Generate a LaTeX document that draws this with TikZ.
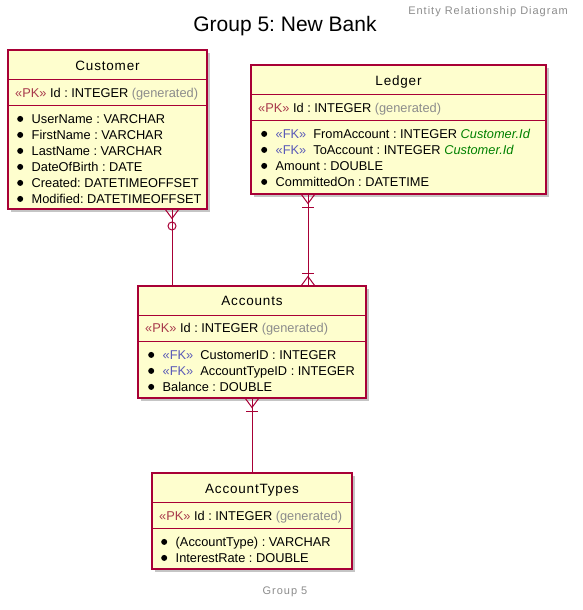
\documentclass[tikz,border=0pt]{standalone}
\usepackage{fontspec}
\setmainfont{Liberation Sans}
\newfontfamily\titlefont[LetterSpace=6]{Liberation Sans}
\newfontfamily\notefont[LetterSpace=9]{Liberation Sans}
\usetikzlibrary{calc, shadows}

\definecolor{umlred}{HTML}{A80036}
\definecolor{umlfill}{HTML}{FEFECE}
\definecolor{pkred}{HTML}{A83A4C}
\definecolor{fkblue}{HTML}{5A5AB8}
\definecolor{refgreen}{HTML}{008000}
\definecolor{gentext}{HTML}{8C8C8C}

\newcommand{\pkmark}{\textcolor{pkred}{«PK»}}
\newcommand{\fkmark}{\textcolor{fkblue}{«FK»}}
\newcommand{\generated}{\textcolor{gentext}{(generated)}}
\newcommand{\fkref}[1]{\textcolor{refgreen}{\itshape #1}}
\newcommand{\attrdot}{\strut\tikz[baseline=-4.4pt]\fill (0,0) circle (3pt);\hspace{8.5pt}}
\frenchspacing

\begin{document}
\begin{tikzpicture}
[
    x = 1pt, y = -1pt,
    entity/.style = {draw = umlred, fill = umlfill, line width = 1.3pt, anchor = north west,
                     inner sep = 0pt, outer sep = 0pt,
                     drop shadow = {shadow xshift = 3pt, shadow yshift = -3pt, fill = black!45, opacity = 0.5}},
    etitle/.style = {font = \titlefont\fontsize{13.5}{16}\selectfont, anchor = base, inner sep = 0pt},
    pkline/.style = {font = \fontsize{12.8}{16}\selectfont, anchor = base west, inner sep = 0pt},
    attrs/.style  = {font = \fontsize{12.8}{16}\selectfont, anchor = north west, align = left, inner sep = 0pt},
    note/.style   = {inner sep = 0pt, text = gentext, font = \notefont\fontsize{11}{13}\selectfont},
    sep/.style    = {draw = umlred, line width = 1pt},
    rel/.style    = {draw = umlred, line width = 1pt}
  ]

  \tikzset{crowfoot/.pic = {\draw[rel] (-7, 0) -- (0, 9.5) -- (7, 0);},
           onebar/.pic   = {\draw[rel] (-6, 0) -- (6, 0);},
           zeroring/.pic = {\draw[rel] (0, 0) circle (4pt);}}

  \useasboundingbox (0, 0) rectangle (582, 610);

  % headings
  \node[note, anchor = base east] (header) at (568, 15) {Entity Relationship Diagram};
  \node[anchor = base, inner sep = 0pt, font = \fontsize{21}{25}\selectfont] (mainTitle) at (285, 32) {Group 5: New Bank};
  \node[note, anchor = base] (footer) at (285, 594) {Group 5};

  % entities
  \node[entity, minimum width = 199pt, minimum height = 159pt] (cust) at (8, 50) {};
  \node[entity, minimum width = 295pt, minimum height = 129pt] (ledger) at (251, 65) {};
  \node[entity, minimum width = 228pt, minimum height = 112pt] (acct) at (138, 286) {};
  \node[entity, minimum width = 200pt, minimum height = 96pt] (acctTypes) at (152, 473) {};

  \foreach \ent in {cust, ledger, acct, acctTypes}
  {
    \draw[sep] ([yshift = -29.5pt]\ent.north west) -- ([yshift = -29.5pt]\ent.north east);
    \draw[sep] ([yshift = -55.5pt]\ent.north west) -- ([yshift = -55.5pt]\ent.north east);
  }

  \node[etitle] (custTitle) at ([yshift = -20.3pt]cust.north) {Customer};
  \node[pkline] (custPK) at ([xshift = 7pt, yshift = -47.6pt]cust.north west) {\pkmark{} Id : INTEGER \generated};
  \node[attrs] (custAttrs) at ([xshift = 9pt, yshift = -61.9pt]cust.north west)
    {\attrdot UserName : VARCHAR\\
     \attrdot FirstName : VARCHAR\\
     \attrdot LastName : VARCHAR\\
     \attrdot DateOfBirth : DATE\\
     \attrdot Created: DATETIMEOFFSET\\
     \attrdot Modified: DATETIMEOFFSET};

  \node[etitle] (ledgerTitle) at ([yshift = -20.3pt]ledger.north) {Ledger};
  \node[pkline] (ledgerPK) at ([xshift = 7pt, yshift = -47.6pt]ledger.north west) {\pkmark{} Id : INTEGER \generated};
  \node[attrs] (ledgerAttrs) at ([xshift = 10pt, yshift = -61.9pt]ledger.north west)
    {\attrdot \fkmark~~FromAccount : INTEGER \fkref{Customer.Id}\\
     \attrdot \fkmark~~ToAccount : INTEGER \fkref{Customer.Id}\\
     \attrdot Amount : DOUBLE\\
     \attrdot CommittedOn : DATETIME};

  \node[etitle] (acctTitle) at ([yshift = -19.3pt]acct.north) {Accounts};
  \node[pkline] (acctPK) at ([xshift = 7pt, yshift = -46.6pt]acct.north west) {\pkmark{} Id : INTEGER \generated};
  \node[attrs] (acctAttrs) at ([xshift = 10pt, yshift = -61.9pt]acct.north west)
    {\attrdot \fkmark~~CustomerID : INTEGER\\
     \attrdot \fkmark~~AccountTypeID : INTEGER\\
     \attrdot Balance : DOUBLE};

  \node[etitle] (acctTypesTitle) at ([yshift = -20.3pt]acctTypes.north) {AccountTypes};
  \node[pkline] (acctTypesPK) at ([xshift = 7pt, yshift = -47.6pt]acctTypes.north west) {\pkmark{} Id : INTEGER \generated};
  \node[attrs] (acctTypesAttrs) at ([xshift = 9pt, yshift = -61.9pt]acctTypes.north west)
    {\attrdot (AccountType) : VARCHAR\\
     \attrdot InterestRate : DOUBLE};

  % relations
  \coordinate (custFoot) at ([xshift = 64.5pt]cust.south);
  \coordinate (ledgerFoot) at ([xshift = -90.5pt]ledger.south);
  \coordinate (acctHead) at (ledgerFoot |- acct.north);

  \draw[rel] (custFoot) -- (custFoot |- acct.north);
  \draw[rel] (ledgerFoot) -- (acctHead);
  \draw[rel] (acct.south) -- (acctTypes.north);

  \pic at (custFoot) {crowfoot};
  \pic at ([yshift = -17pt]custFoot) {zeroring};

  \pic at (ledgerFoot) {crowfoot};
  \pic at ([yshift = -13pt]ledgerFoot) {onebar};
  \pic[yscale = -1] at (acctHead) {crowfoot};
  \pic at ([yshift = 13pt]acctHead) {onebar};

  \pic at (acct.south) {crowfoot};
  \pic at ([yshift = -13pt]acct.south) {onebar};

\end{tikzpicture}
\end{document}
